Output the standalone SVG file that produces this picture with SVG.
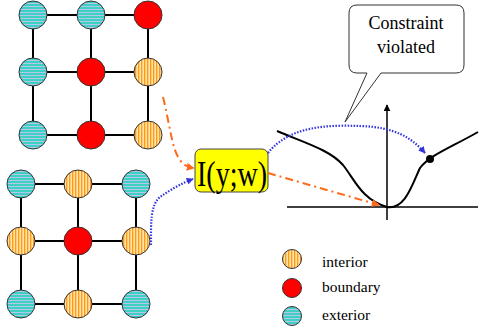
<svg xmlns="http://www.w3.org/2000/svg" width="479" height="332" viewBox="0 0 479 332">
<defs>
<pattern id="pExt" width="4" height="3" patternUnits="userSpaceOnUse">
<rect width="4" height="3" fill="#3cd2bf"/>
<rect y="0" width="4" height="1" fill="#b8c4f0"/>
</pattern>
<pattern id="pInt" width="3" height="4" patternUnits="userSpaceOnUse">
<rect width="3" height="4" fill="#ffcc70"/>
<rect x="0" width="1" height="4" fill="#ff9a1a"/>
<rect x="2" width="0.6" height="4" fill="#fff2d8"/>
</pattern>
<marker id="aBlue" viewBox="0 0 10 10" refX="9" refY="5" markerWidth="7" markerHeight="7" orient="auto" markerUnits="userSpaceOnUse">
<path d="M0,0 L10,5 L0,10 z" fill="#3333dd"/>
</marker>
<marker id="aOrange" viewBox="0 0 10 10" refX="9" refY="5" markerWidth="8" markerHeight="8" orient="auto" markerUnits="userSpaceOnUse">
<path d="M0,0 L10,5 L0,10 z" fill="#ff6a1a"/>
</marker>
<marker id="aBlack" viewBox="0 0 10 10" refX="9" refY="5" markerWidth="7" markerHeight="7" orient="auto" markerUnits="userSpaceOnUse">
<path d="M0,0 L10,5 L0,10 z" fill="#000"/>
</marker>
</defs>
<style>
.edge{stroke:#000;stroke-width:2;fill:none}
.ext{fill:url(#pExt);stroke:#333;stroke-width:1}
.int{fill:url(#pInt);stroke:#333;stroke-width:1}
.bnd{fill:#ff0000;stroke:#333;stroke-width:1}
.blue{stroke:#3333dd;stroke-width:2.2;stroke-dasharray:1.5 1.5;fill:none}
.orange{stroke:#ff6a1a;stroke-width:2;stroke-dasharray:8 4 2 4;fill:none}
text{font-family:'Liberation Serif','Times New Roman',serif;fill:#000}
.leg{font-size:15.5px}
</style>

<g id="grid-top">
<path class="edge" d="M33,15 H148 V135 H33 Z M33,72 H148 M91,15 V135"/>
<g id="t00"><circle class="ext" cx="33" cy="15" r="14"/></g>
<g id="t01"><circle class="ext" cx="91" cy="15" r="14"/></g>
<g id="t02"><circle class="bnd" cx="148" cy="15" r="14"/></g>
<g id="t10"><circle class="ext" cx="33" cy="72" r="14"/></g>
<g id="t11"><circle class="bnd" cx="91" cy="72" r="14"/></g>
<g id="t12"><circle class="int" cx="148" cy="72" r="14"/></g>
<g id="t20"><circle class="ext" cx="33" cy="135" r="14"/></g>
<g id="t21"><circle class="bnd" cx="91" cy="135" r="14"/></g>
<g id="t22"><circle class="int" cx="148" cy="135" r="14"/></g>
</g>

<g id="grid-bottom">
<path class="edge" d="M21,184 H136 V304 H21 Z M21,241 H136 M78,184 V304"/>
<g id="b00"><circle class="ext" cx="21" cy="184" r="14"/></g>
<g id="b01"><circle class="int" cx="78" cy="184" r="14"/></g>
<g id="b02"><circle class="ext" cx="136" cy="184" r="14"/></g>
<g id="b10"><circle class="int" cx="21" cy="241" r="14"/></g>
<g id="b11"><circle class="bnd" cx="78" cy="241" r="14"/></g>
<g id="b12"><circle class="int" cx="136" cy="241" r="14"/></g>
<g id="b20"><circle class="ext" cx="21" cy="304" r="14"/></g>
<g id="b21"><circle class="int" cx="78" cy="304" r="14"/></g>
<g id="b22"><circle class="ext" cx="136" cy="304" r="14"/></g>
</g>

<g id="func">
<rect x="195" y="149" width="73" height="43" rx="6" fill="#ffff00" stroke="#444" stroke-width="1"/>
<text transform="translate(232,186) scale(1,1.25)" x="0" y="0" font-size="28" text-anchor="middle">I(y;w)</text>
</g>

<g id="chart">
<path d="M287,207 H478" stroke="#000" stroke-width="1.5" fill="none"/>
<path d="M387,220 V105" stroke="#000" stroke-width="1.5" fill="none" marker-end="url(#aBlack)"/>
<path d="M277,131 C305,143 330,150 343,165 C355,180 362,200 387,207 C405,210 412,185 420,168 C430,155 450,148 478,132" stroke="#000" stroke-width="2" fill="none"/>
<circle cx="430" cy="159" r="4" fill="#000"/>
</g>

<g id="callout">
<path d="M357,5 H456 Q464,5 464,13 V65 Q464,73 456,73 H381 L345,122 L367,73 H357 Q349,73 349,65 V13 Q349,5 357,5 Z" fill="#fff" stroke="#333" stroke-width="1"/>
<text x="406" y="29" font-size="18" text-anchor="middle">Constraint</text>
<text x="406" y="53" font-size="18" text-anchor="middle">violated</text>
</g>

<g id="connectors">
<path class="orange" d="M163,97 C170,125 172,150 180,160 C184,166 188,167 194,168" marker-end="url(#aOrange)"/>
<path class="blue" d="M151,245 C151,225 150,205 160,197 C170,190 182,183 193,179" marker-end="url(#aBlue)"/>
<path class="blue" d="M268,153 C290,125 330,125 360,126 C395,127 412,138 425,153" marker-end="url(#aBlue)"/>
<path class="orange" d="M268,173 L379,205" marker-end="url(#aOrange)"/>
</g>

<g id="legend">
<g id="leg-int"><circle class="int" cx="292" cy="259" r="9.5"/><text class="leg" x="322" y="267">interior</text></g>
<g id="leg-bnd"><circle class="bnd" cx="292" cy="288" r="9.5"/><text class="leg" x="322" y="292">boundary</text></g>
<g id="leg-ext"><circle class="ext" cx="292" cy="316" r="9.5"/><text class="leg" x="322" y="320">exterior</text></g>
</g>
</svg>
